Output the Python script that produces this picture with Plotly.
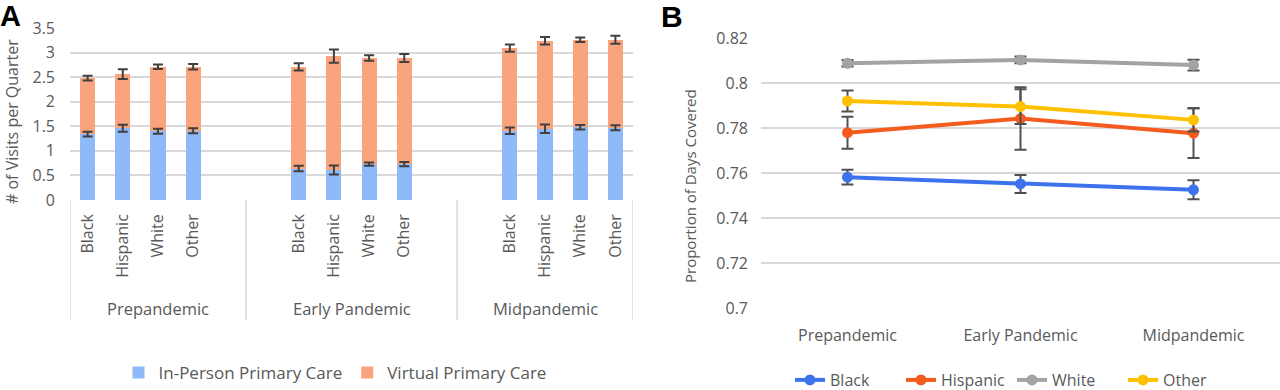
import plotly.graph_objects as go

# ---------------- Data ----------------
periods = ["Prepandemic", "Early Pandemic", "Midpandemic"]
races = ["Black", "Hispanic", "White", "Other"]

# Panel A: visits per quarter (stacked)
in_person_pre = [1.34, 1.46, 1.40, 1.41]
in_person_early = [0.64, 0.61, 0.73, 0.73]
in_person_mid = [1.41, 1.45, 1.48, 1.47]
in_person_err_pre = [0.05, 0.07, 0.05, 0.05]
in_person_err_early = [0.055, 0.09, 0.035, 0.045]
in_person_err_mid = [0.065, 0.085, 0.045, 0.05]

virtual_pre = [1.14, 1.10, 1.31, 1.30]
virtual_early = [2.07, 2.32, 2.16, 2.16]
virtual_mid = [1.68, 1.79, 1.78, 1.79]
virtual_err_pre = [0.05, 0.10, 0.045, 0.055]
virtual_err_early = [0.075, 0.135, 0.055, 0.08]
virtual_err_mid = [0.075, 0.075, 0.045, 0.08]

# Panel B: proportion of days covered
pdc_black = [0.7582, 0.7552, 0.7526]
pdc_hispanic = [0.7780, 0.7843, 0.7778]
pdc_white = [0.8089, 0.8104, 0.8081]
pdc_other = [0.7921, 0.7896, 0.7837]
pdc_err_black = [0.0033, 0.0040, 0.0042]
pdc_err_hispanic = [0.0071, 0.0139, 0.0111]
pdc_err_white = [0.0015, 0.0015, 0.0024]
pdc_err_other = [0.0047, 0.0077, 0.0052]

# ---------------- Layout helpers ----------------
W, H = 1280, 390
FONT = "Open Sans"
TXT = "#595959"
GRID = "#D9D9D9"
ERR = "#404040"

group_start = [0, 6, 12]  # slot index of first race in each period (blank slots between)
xs = [group_start[g] + i for g in range(3) for i in range(4)]
cat_labels = [r for g in range(3) for r in races]

inp = in_person_pre + in_person_early + in_person_mid
inp_err = in_person_err_pre + in_person_err_early + in_person_err_mid
vir = virtual_pre + virtual_early + virtual_mid
vir_err = virtual_err_pre + virtual_err_early + virtual_err_mid
tot = [a + b for a, b in zip(inp, vir)]

fig = go.Figure()

fig.add_trace(go.Bar(
    x=xs, y=inp, name="In-Person Primary Care", marker=dict(color="#8FB9F9", line_width=0),
    width=0.43, xaxis="x", yaxis="y", legend="legend",
))
fig.add_trace(go.Bar(
    x=xs, y=vir, name="Virtual Primary Care", marker=dict(color="#F9A47C", line_width=0),
    width=0.43, xaxis="x", yaxis="y", legend="legend",
))
# error bars drawn on top of both stacked segments
for yv, ev in [(inp, inp_err), (tot, vir_err)]:
    fig.add_trace(go.Scatter(
        x=xs, y=yv, mode="markers", marker=dict(size=1, opacity=0), showlegend=False,
        hoverinfo="skip", xaxis="x", yaxis="y",
        error_y=dict(type="data", array=ev, color=ERR, thickness=2, width=5),
    ))

series_b = [
    ("Black", pdc_black, pdc_err_black, "#3C73EC"),
    ("Hispanic", pdc_hispanic, pdc_err_hispanic, "#F45B1E"),
    ("White", pdc_white, pdc_err_white, "#A3A3A3"),
    ("Other", pdc_other, pdc_err_other, "#FFC000"),
]
for name, vals, errs, col in series_b:
    fig.add_trace(go.Scatter(
        x=periods, y=vals, name=name, mode="lines+markers",
        line=dict(color=col, width=4), marker=dict(color=col, size=11),
        xaxis="x2", yaxis="y2", legend="legend2",
        error_y=dict(type="data", array=errs, color="#505050", thickness=2, width=6),
    ))

def px_x(p):
    return p / W

def px_y(p):
    return (H - p) / H

fig.update_layout(
    width=W, height=H, margin=dict(l=0, r=0, t=0, b=0, autoexpand=False),
    paper_bgcolor="white", plot_bgcolor="white",
    barmode="stack", bargap=0,
    font=dict(family=FONT, size=15, color=TXT),
    xaxis=dict(
        domain=[px_x(70), px_x(633)], range=[-0.5, 15.5], anchor="y", automargin=False,
        tickmode="array", tickvals=xs, ticktext=cat_labels, tickangle=-90,
        tickfont=dict(size=16, color=TXT), ticklabelstandoff=10,
        showgrid=False, zeroline=False, showline=False, ticks="",
    ),
    yaxis=dict(
        domain=[px_y(200), px_y(28)], range=[0, 3.5], anchor="x", automargin=False,
        dtick=0.5, tickformat="~g", gridcolor=GRID, gridwidth=1.5,
        zeroline=False, showline=False, ticks="", tickfont=dict(size=16, color=TXT),
        ticklabelstandoff=14,
    ),
    xaxis2=dict(
        domain=[px_x(761), 1.0], range=[-0.5, 2.5], anchor="y2", type="category", automargin=False,
        showgrid=False, zeroline=False, showline=False, ticks="",
        tickfont=dict(size=16, color=TXT), ticklabelstandoff=16,
    ),
    yaxis2=dict(
        domain=[px_y(308), px_y(38.3)], range=[0.7, 0.82], anchor="x2", automargin=False,
        dtick=0.02, tickformat="~g", gridcolor=GRID, gridwidth=1.5,
        zeroline=False, showline=False, ticks="", tickfont=dict(size=16, color=TXT),
        ticklabelstandoff=12,
    ),
    legend=dict(
        orientation="h", x=px_x(335), xanchor="center", y=px_y(373), yanchor="middle",
        font=dict(size=17, color=TXT), bgcolor="rgba(0,0,0,0)", traceorder="normal",
    ),
    legend2=dict(
        orientation="h", x=px_x(1012), xanchor="center", y=px_y(380), yanchor="middle",
        font=dict(size=16, color=TXT), bgcolor="rgba(0,0,0,0)", traceorder="normal",
        entrywidth=66, entrywidthmode="pixels",
    ),
    showlegend=True,
)

# Category box of panel A
shapes = []
for xv in [-0.5, 4.5, 10.5, 15.5]:
    shapes.append(dict(type="line", xref="x", yref="paper", x0=xv, x1=xv,
                       y0=px_y(320), y1=px_y(200), line=dict(color=GRID, width=1.5)))
fig.update_layout(shapes=shapes)

annotations = []
for g, p in enumerate(periods):
    center = [2, 7.5, 13][g]
    annotations.append(dict(x=center, y=px_y(308), xref="x", yref="paper", text=p,
                            showarrow=False, xanchor="center", yanchor="middle",
                            font=dict(size=16.5, color=TXT)))
annotations += [
    dict(x=px_x(12), y=px_y(122), xref="paper", yref="paper", text="# of Visits per Quarter",
         textangle=-90, showarrow=False, xanchor="center", yanchor="middle",
         font=dict(size=16, color=TXT)),
    dict(x=px_x(690), y=px_y(186), xref="paper", yref="paper", text="Proportion of Days Covered",
         textangle=-90, showarrow=False, xanchor="center", yanchor="middle",
         font=dict(size=15, color=TXT)),
    dict(x=px_x(-2), y=px_y(-2), xref="paper", yref="paper", text="<b>A</b>",
         showarrow=False, xanchor="left", yanchor="top",
         font=dict(family="Arial, Liberation Sans", size=29, color="black")),
    dict(x=px_x(659), y=px_y(-2), xref="paper", yref="paper", text="<b>B</b>",
         showarrow=False, xanchor="left", yanchor="top",
         font=dict(family="Arial, Liberation Sans", size=30, color="black")),
]
fig.update_layout(annotations=annotations)

fig.write_html("out.html", config={"displayModeBar": False},
               post_script="document.body.style.margin='0';document.body.style.overflow='hidden';")
